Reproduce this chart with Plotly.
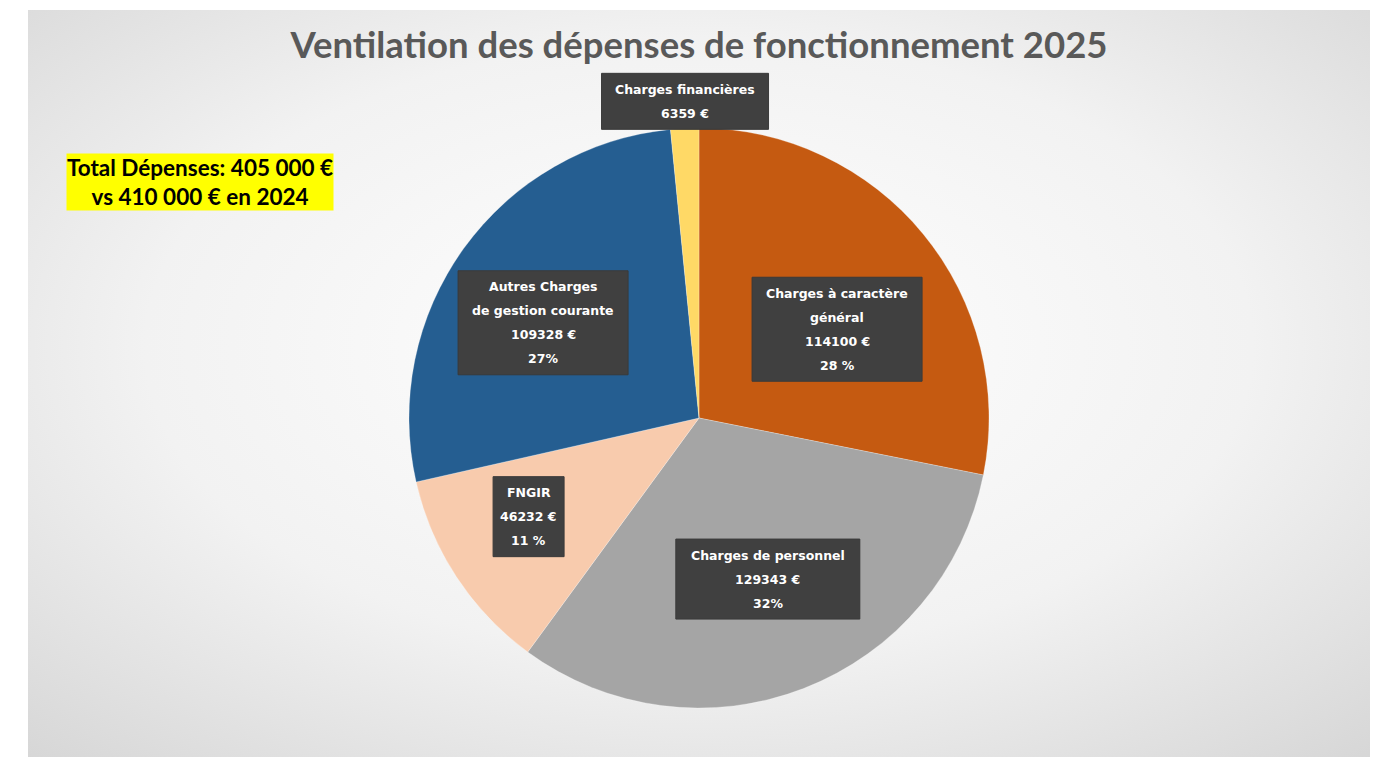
import base64, math
import plotly.graph_objects as go

# ---- data ----
categories = ["Charges à caractère général", "Charges de personnel", "FNGIR",
              "Autres Charges de gestion courante", "Charges financières"]
label_lines = [["Charges à caractère", "général"], ["Charges de personnel"], ["FNGIR"],
               ["Autres Charges", "de gestion courante"], ["Charges financières"]]
values = [114100, 129343, 46232, 109328, 6359]
pct_labels = ["28 %", "32%", "11 %", "27%", ""]
colors = ["#C55A11", "#A5A5A5", "#F8CBAD", "#255E91", "#FFD966"]

# label placement style: radial fraction, angular tweak (deg), box width (px)
label_radius = [0.566, 0.604, 0.679, 0.630, 1.093]
label_dang = [6.6, -1.9, 3.2, -4.4, 0.3]
box_w = [170, 184, 71, 170, 167]
LINE = 24

W, H = 1371, 749          # page has an 8px body margin
OFF = 8
cx, cy, R = 699 - OFF, 418 - OFF, 290  # pie centre & radius in figure pixels


def px(x):
    return x / W


def py(y):
    return 1 - y / H


fig = go.Figure()

fig.add_trace(go.Pie(
    labels=categories, values=values, sort=False, direction="clockwise", rotation=0,
    marker=dict(colors=colors, line=dict(color="rgba(255,255,255,0.5)", width=0.5)),
    textinfo="none", hoverinfo="label+value+percent", showlegend=False,
    domain=dict(x=[px(cx - R), px(cx + R)], y=[py(cy + R), py(cy - R)]),
))

# background gradient panel
svg = ("<svg xmlns='http://www.w3.org/2000/svg' width='1342' height='747'>"
       "<defs><radialGradient id='g' cx='50%' cy='45%' r='75%'>"
       "<stop offset='0' stop-color='#ffffff'/><stop offset='0.55' stop-color='#f2f2f2'/>"
       "<stop offset='1' stop-color='#d6d6d6'/></radialGradient></defs>"
       "<rect width='100%' height='100%' fill='url(#g)'/></svg>")
src = "data:image/svg+xml;base64," + base64.b64encode(svg.encode()).decode()
fig.add_layout_image(dict(source=src, xref="paper", yref="paper", x=px(28 - OFF), y=py(10 - OFF),
                          sizex=(1370 - 28) / W, sizey=(757 - 10) / H, sizing="stretch",
                          xanchor="left", yanchor="top", layer="below"))

# labels computed from slice mid-angles
total = sum(values)
cum = 0
for i, v in enumerate(values):
    mid = (cum + v / 2) / total * 360 + label_dang[i]
    cum += v
    r = R * label_radius[i]
    lx = cx + r * math.sin(math.radians(mid))
    ly = cy - r * math.cos(math.radians(mid))
    lines = label_lines[i] + [f"{values[i]} €"] + ([pct_labels[i]] if pct_labels[i] else [])
    n = len(lines)
    bh = n * LINE + 8
    fig.add_shape(type="rect", xref="paper", yref="paper",
                  x0=px(lx - box_w[i] / 2), x1=px(lx + box_w[i] / 2),
                  y0=py(ly + bh / 2), y1=py(ly - bh / 2),
                  fillcolor="#404040", line=dict(color="#3a3a3a", width=1))
    for k, t in enumerate(lines):
        yy = ly + (k - (n - 1) / 2) * LINE
        fig.add_annotation(x=px(lx), y=py(yy), xref="paper", yref="paper", text=f"<b>{t}</b>",
                           showarrow=False, xanchor="center", yanchor="middle",
                           font=dict(family="DejaVu Sans", size=12.5, color="white"))

fig.add_annotation(x=px(200 - OFF), y=py(182 - OFF), xref="paper", yref="paper",
                   xanchor="center", yanchor="middle",
                   text="<b>Total Dépenses: 405 000 €<br>vs 410 000 € en 2024</b>",
                   showarrow=False, bgcolor="#FFFF00", borderpad=0,
                   font=dict(family="Lato", size=22.5, color="black"), align="center")

fig.update_layout(
    width=W, height=H, margin=dict(l=0, r=0, t=0, b=0),
    paper_bgcolor="white", plot_bgcolor="white",
    title=dict(text="<b>Ventilation des dépenses de fonctionnement 2025</b>",
               x=px(699 - OFF), xanchor="center", y=py(45 - OFF), yanchor="middle",
               font=dict(family="Lato", size=36.5, color="#595959")),
)

fig.write_html("out.html")
